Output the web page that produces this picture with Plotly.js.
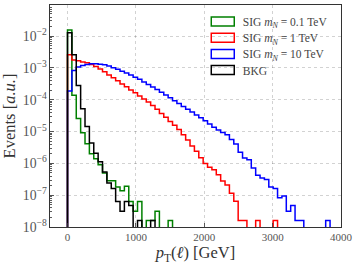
<!DOCTYPE html>
<html>
<head>
<meta charset="utf-8">
<script src="https://cdn.plot.ly/plotly-3.0.1.min.js"></script>
<style>html,body{margin:0;padding:0;background:#fff;}#chart{width:357px;height:266px;}</style>
</head>
<body>
<div id="chart"></div>
<script>
// Histogram binning (GeV): 60 bins of 64 GeV starting at 0
const binStart = 0;
const binWidth = 64;
const nBins = 60;

const seriesNames = [
  'SIG <i>m</i><sub><i>N</i></sub> = 0.1 TeV',
  'SIG <i>m</i><sub><i>N</i></sub> = 1 TeV',
  'SIG <i>m</i><sub><i>N</i></sub> = 10 TeV',
  'BKG'
];
const seriesColors = ['#008000', '#ff0000', '#0000ff', '#000000'];

// Normalised events per bin (a.u.)
const sig01 = [1.55e-2, 1.38e-4, 2.57e-5, 9.12e-6, 4.17e-6, 2.0e-6, 1.41e-6, 9.12e-7, 5.01e-7, 2.82e-7,
  2.82e-7, 1.82e-7, 1.38e-7, 1.91e-7, 6.3e-8, 3.1e-8, 6.3e-8, 0, 1.6e-8, 1.6e-8,
  3.1e-8, 0, 0, 1.6e-8, 0, 0, 0, 0, 0, 0,
  0, 0, 0, 0, 0, 0, 0, 0, 0, 0,
  0, 0, 0, 0, 0, 0, 0, 0, 0, 0,
  0, 0, 0, 0, 0, 0, 0, 0, 0, 0];

const sig1 = [2.6e-3, 1.78e-3, 1.70e-3, 1.55e-3, 1.45e-3, 1.29e-3, 1.12e-3, 9.3e-4, 7.6e-4, 6.0e-4,
  4.9e-4, 4.0e-4, 3.16e-4, 2.57e-4, 2.04e-4, 1.66e-4, 1.32e-4, 1.05e-4, 8.5e-5, 6.6e-5,
  5.0e-5, 3.7e-5, 2.82e-5, 2.09e-5, 1.58e-5, 1.17e-5, 7.9e-6, 5.4e-6, 3.5e-6, 2.4e-6,
  1.51e-6, 1.0e-6, 7.6e-7, 6.3e-7, 4.4e-7, 2.8e-7, 2.1e-7, 1.15e-7, 6.5e-8, 1.6e-8,
  1.6e-8, 0, 0, 1.6e-8, 0, 0, 0, 1.6e-8, 0, 0,
  0, 0, 0, 0, 0, 0, 0, 0, 0, 0];

const sig10 = [1.9e-4, 8.3e-4, 1.07e-3, 1.20e-3, 1.29e-3, 1.35e-3, 1.35e-3, 1.32e-3, 1.26e-3, 1.15e-3,
  1.02e-3, 9.1e-4, 7.9e-4, 6.9e-4, 6.0e-4, 5.1e-4, 4.4e-4, 3.6e-4, 3.0e-4, 2.5e-4,
  2.1e-4, 1.74e-4, 1.41e-4, 1.15e-4, 9.3e-5, 7.6e-5, 6.2e-5, 5.0e-5, 4.1e-5, 3.3e-5,
  2.7e-5, 2.2e-5, 1.74e-5, 1.38e-5, 1.12e-5, 9.3e-6, 7.9e-6, 5.6e-6, 4.1e-6, 2.24e-6,
  1.48e-6, 1.30e-6, 7.1e-7, 4.2e-7, 3.5e-7, 3.1e-7, 1.82e-7, 1.62e-7, 8.3e-8, 9.5e-8,
  3.1e-8, 4.7e-8, 1.6e-8, 1.6e-8, 0, 0, 0, 0, 0, 1.6e-8];

const bkg = [1.29e-2, 2.6e-3, 2.82e-4, 5.25e-5, 1.45e-5, 4.37e-6, 2.09e-6, 1.12e-6, 5.37e-7, 2.4e-7,
  1.62e-7, 6.3e-8, 3.1e-8, 6.3e-8, 4.7e-8, 0, 1.6e-8, 0, 0, 1.6e-8,
  0, 0, 0, 0, 0, 0, 0, 0, 0, 0,
  0, 0, 0, 0, 0, 0, 0, 0, 0, 0,
  0, 0, 0, 0, 0, 0, 0, 0, 0, 0,
  0, 0, 0, 0, 0, 0, 0, 0, 0, 0];

const xTickVals = [0, 1000, 2000, 3000, 4000];
const xTickText = ['0', '1000', '2000', '3000', '4000'];

// ---- build step outlines (matplotlib histtype='step') ----
const edges = [];
for (let i = 0; i <= nBins; i++) edges.push(binStart + i * binWidth);
const FLOOR = 1e-12; // empty bins fall below the axis

function stepTrace(vals, name, color) {
  const x = [edges[0]];
  const y = [FLOOR];
  for (let i = 0; i < vals.length; i++) {
    x.push(edges[i]);
    y.push(vals[i] > 0 ? vals[i] : FLOOR);
  }
  x.push(edges[vals.length]);
  y.push(FLOOR);
  return {
    type: 'scatter', mode: 'lines', x: x, y: y, name: name,
    line: {shape: 'hv', color: color, width: 1.5},
    hoverinfo: 'skip'
  };
}

const allSeries = [sig01, sig1, sig10, bkg];
const data = allSeries.map((s, k) => stepTrace(s, seriesNames[k], seriesColors[k]));

const FONT = 'Liberation Serif, DejaVu Serif, serif';
const layout = {
  width: 357, height: 266,
  margin: {l: 50, r: 16.3, t: 4.5, b: 38.7, pad: 0},
  paper_bgcolor: '#ffffff', plot_bgcolor: '#ffffff',
  font: {family: FONT, size: 11, color: '#333333'},
  showlegend: true,
  legend: {
    x: 0.525, y: 1.0, xanchor: 'left', yanchor: 'top',
    bgcolor: 'rgba(0,0,0,0)', borderwidth: 0,
    font: {family: FONT, size: 11.5, color: '#444444'}
  },
  xaxis: {
    range: [-256, 4000],
    tickmode: 'array', tickvals: xTickVals, ticktext: xTickText,
    ticks: 'inside', ticklen: 4, tickwidth: 0.8, tickcolor: '#333',
    showline: true, linecolor: '#333333', linewidth: 1, mirror: true,
    showgrid: true, gridcolor: 'rgba(0,0,0,0.22)', griddash: 'dot', gridwidth: 0.8,
    zeroline: false,
    tickfont: {family: FONT, size: 11, color: '#555555'},
    title: {text: '<i>p</i><sub>T</sub>(<i>ℓ</i>) [GeV]', font: {family: FONT, size: 16.5, color: '#333333'}, standoff: 4}
  },
  yaxis: {
    type: 'log', range: [-8, -1.02], dtick: 1,
    exponentformat: 'power', showexponent: 'all',
    ticks: 'inside', ticklen: 4, tickwidth: 0.8, tickcolor: '#333',
    minor: {ticks: 'inside', ticklen: 2, tickcolor: '#333', showgrid: false},
    showline: true, linecolor: '#333333', linewidth: 1, mirror: true,
    showgrid: true, gridcolor: 'rgba(0,0,0,0.22)', griddash: 'dot', gridwidth: 0.8,
    zeroline: false,
    tickfont: {family: FONT, size: 11, color: '#555555'},
    title: {text: 'Events [<i>a.u.</i>]', font: {family: FONT, size: 16.5, color: '#333333'}, standoff: 3}
  }
};

Plotly.newPlot('chart', data, layout, {staticPlot: true, displayModeBar: false}).then(function (gd) {
  // matplotlib-style legend handles: outlined rectangles
  gd.querySelectorAll('.legend .legendlines path').forEach(function (p) {
    p.setAttribute('d', 'M8.5,-4.5h23v9h-23Z');
    p.style.fill = 'none';
  });
  // tighter row spacing like the matplotlib legend
  const rows = gd.querySelectorAll('.legend .traces');
  const ROW = 16.2;
  const SHIFT = 2;
  let y0 = null, x0 = 0;
  rows.forEach(function (g, k) {
    const m = /translate\(\s*([-\d.]+)[ ,]+([-\d.]+)\s*\)/.exec(g.getAttribute('transform') || '');
    if (!m) return;
    if (y0 === null) { x0 = parseFloat(m[1]); y0 = parseFloat(m[2]) + SHIFT; }
    g.setAttribute('transform', 'translate(' + x0 + ',' + (y0 + k * ROW) + ')');
  });
});
</script>
</body>
</html>
